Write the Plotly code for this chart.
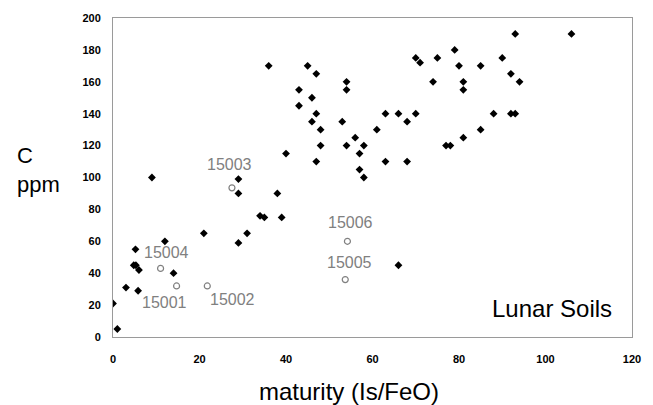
import plotly.graph_objects as go

# Lunar soil samples: maturity (Is/FeO) versus carbon content (ppm)
soil_maturity = [0, 1, 3, 4.8, 5.3, 5.2, 6, 5.8, 9, 12, 14, 21, 29, 29, 29, 31, 34, 35,
                 36, 38, 39, 40, 43, 43, 45, 46, 46, 47, 47, 47, 48, 48, 53, 54, 54,
                 54, 56, 57, 57, 58, 58, 61, 63, 63, 66, 66, 68, 68, 70, 70, 71, 74,
                 75, 77, 78, 79, 80, 81, 81, 81, 85, 85, 88, 90, 92, 92, 93, 93, 94, 106]
soil_carbon = [21, 5, 31, 45, 45, 55, 42, 29, 100, 60, 40, 65, 99, 90, 59, 65, 76, 75,
               170, 90, 75, 115, 155, 145, 170, 150, 135, 165, 140, 110, 130, 120, 135, 160, 155,
               120, 125, 115, 105, 120, 100, 130, 140, 110, 140, 45, 135, 110, 140, 175, 172, 160,
               175, 120, 120, 180, 170, 160, 155, 125, 170, 130, 140, 175, 165, 140, 140, 190, 160, 190]

# Apollo 15 samples plotted as open circles with their sample numbers
core_names = ["15001", "15002", "15003", "15004", "15005", "15006"]
core_maturity = [14.7, 21.8, 27.5, 11.0, 53.7, 54.2]
core_carbon = [32, 32, 93.5, 43, 36, 60]
# label placement relative to each open circle (pixels)
label_dx = [-12, 25, -2, 6, 4, 3]
label_dy = [-17, -14, 23, 16, 17, 19]

font_family = "Arial, Liberation Sans, sans-serif"
label_grey = "#808080"

fig = go.Figure()
fig.add_trace(go.Scatter(
    x=soil_maturity, y=soil_carbon, mode="markers",
    marker=dict(symbol="diamond", size=6, color="black", line=dict(width=0)),
    showlegend=False, hoverinfo="x+y",
))
fig.add_trace(go.Scatter(
    x=core_maturity, y=core_carbon, mode="markers",
    marker=dict(symbol="circle-open", size=6, color=label_grey, line=dict(width=1.2, color=label_grey)),
    text=core_names, showlegend=False, hoverinfo="text+x+y",
))

for name, xv, yv, dx, dy in zip(core_names, core_maturity, core_carbon, label_dx, label_dy):
    fig.add_annotation(x=xv, y=yv, text=name, showarrow=False, xshift=dx, yshift=dy,
                       font=dict(family=font_family, size=16, color=label_grey))

fig.add_annotation(xref="paper", yref="paper", x=0.965, y=0.088, xanchor="right", yanchor="middle",
                   text="Lunar Soils", showarrow=False,
                   font=dict(family=font_family, size=24, color="black"))
fig.add_annotation(xref="paper", yref="paper", x=0.455, y=-0.172, xanchor="center", yanchor="middle",
                   text="maturity (Is/FeO)", showarrow=False,
                   font=dict(family=font_family, size=24, color="black"))
fig.add_annotation(xref="paper", yref="paper", x=-0.189, y=0.524, xanchor="left", yanchor="middle",
                   text="C<br>ppm", align="left", showarrow=False,
                   font=dict(family=font_family, size=22, color="black"))

axis_style = dict(showline=True, linecolor="#9a9a9a", linewidth=1, mirror=True,
                  showgrid=False, zeroline=False, ticks="",
                  tickfont=dict(family=font_family, size=11, color="black", weight="bold"))

fig.update_xaxes(range=[0, 120], tick0=0, dtick=20, ticklabelstandoff=12, **axis_style)
fig.update_yaxes(range=[0, 200], tick0=0, dtick=20, ticklabelstandoff=9, **axis_style)

fig.update_layout(
    width=653, height=405,
    margin=dict(l=113, r=20, t=16, b=68),
    paper_bgcolor="white", plot_bgcolor="white",
    font=dict(family=font_family),
)

fig.write_html("out.html")
